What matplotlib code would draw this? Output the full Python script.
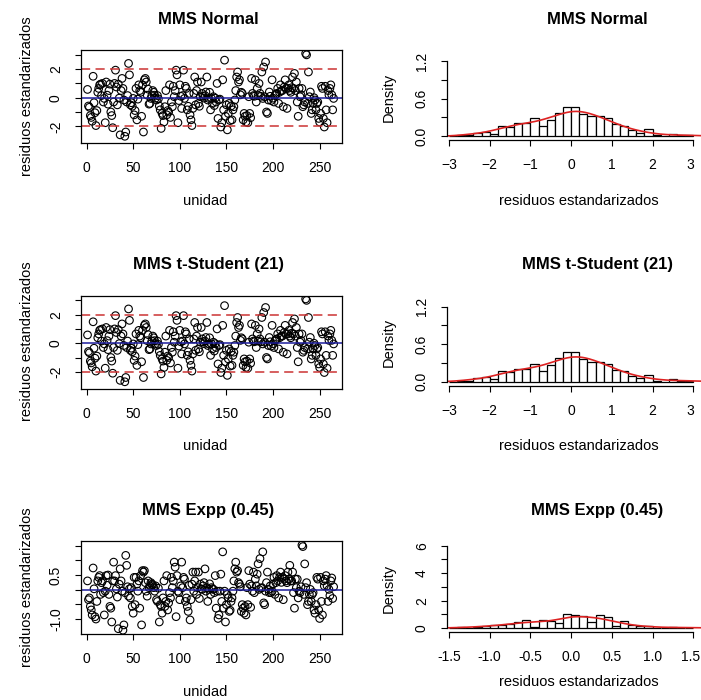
import matplotlib.pyplot as plt
import matplotlib.transforms as mtransforms
import numpy as np

plt.rcParams['font.family'] = ['Liberation Sans', 'DejaVu Sans']

# residuos estandarizados (unidad 1..n)
res_normal = [
    0.58, -0.58, -0.67, -1.25, -1.38, -1.65, 1.5, -0.35, -1.05, -1.95, -0.9,
    0.38, 0.65, 0.9, 0.95, 0.15, 1.0, -0.3, -0.05, -1.75, 1.1, 0.18,
    -0.45, 0.5, 0.95, -1.0, -1.25, -2.1, -0.3, 1.0, 1.93, 0.75, -0.5,
    0.95, -0.03, -2.6, 0.5, 1.35, 0.65, -0.16, -2.7, -2.4, -0.3, 0.15,
    2.4, 1.6, -0.5, -0.35, -0.6, -0.05, -1.2, -0.9, 0.65, -1.55, -0.1,
    0.9, 0.5, 0.38, -1.3, 0.9, -2.4, 1.25, 1.35, 1.1, 0.18, 0.6,
    -0.45, -0.4, -0.05, 0.15, 0.5, 0.38, 0.18, -0.03, -0.16, 0.15, -0.08,
    -0.58, -0.85, -2.15, -1.1, -1.25, -1.7, -0.63, 0.5, -1.2, -0.9, -1.0,
    0.9, -1.38, -0.3, -0.63, 0.8, 0.07, 0.5, 1.93, 1.6, -1.75, -0.2,
    0.9, 0.1, -0.75, 0.15, 1.93, -0.05, 0.8, 0.65, -0.85, -0.6, 0.3,
    -1.2, -1.55, -1.95, -0.75, 0.3, 1.45, -0.5, 0.5, 1.1, -0.4, -0.6,
    0.07, 1.1, 0.3, 0.1, -0.03, 0.15, 0.4, 1.45, -0.16, -0.05, 0.38,
    -0.85, -0.05, -0.4, 0.07, -0.55, -0.03, -0.3, 1.0, -1.45, -0.16, -0.1,
    -2.05, -1.75, 1.25, -0.85, 2.63, -1.3, -0.5, -2.25, -1.1, -0.4, -1.6,
    -0.58, -1.55, -0.85, -0.63, -0.16, 0.5, 1.45, 1.8, 1.1, 1.25, 0.2,
    0.38, 0.3, -1.55, -1.1, -1.3, -1.7, -1.25, -1.75, 0.07, -1.1, -1.4,
    1.35, 0.3, 0.15, 0.1, 1.25, -0.3, 0.65, 0.15, 1.0, 0.3, 0.1,
    1.8, -0.05, 2.15, 0.07, 2.5, -1.0, -1.1, -0.16, 0.4, 0.1, -0.2,
    1.25, -0.03, -0.3, 0.15, 0.25, 0.3, 0.65, -0.4, 0.38, 0.9, 0.5,
    0.5, -0.63, 0.75, 1.25, 0.65, -0.75, 0.65, 0.9, 0.5, 0.38, 0.7,
    1.45, 0.65, 1.7, 0.5, 1.1, -0.3, -1.3, 0.65, 0.07, 0.2,
    0.65, -0.63, -0.5, -0.3, 3.1, 3.0, -0.4, 1.8, 0.07, 0.4,
    -1.1, -0.85, -0.4, 0.0, -0.16, -0.85, -0.4, -0.3, -1.45, -1.7,
    -1.1, 0.8, 0.65, -1.45, -2.05, 0.8, -0.85, -1.75, 0.5, 0.2, 0.65, 0.9, 0.2, -0.85, -0.05,
]
res_t = list(res_normal)  # se ven iguales en el grafico

res_expp = [
    0.3, -0.34, -0.28, -0.57, -0.69, -0.86, 0.74, 0.03, -0.92, -1.0, -0.4,
    0.3, 0.42, 0.48, -0.16, 0.24, 0.3, -0.1, -0.86, -0.05, 0.48, 0.15,
    0.5, -0.16, -0.57, -0.63, -1.1, 0.3, 0.94, 0.3, 0.48, 0.03, -0.25,
    -1.33, 0.19, 0.71, 0.3, -0.05, -1.38, -1.2, -0.1, 1.17, 0.83, 0.1,
    -0.22, 0.03, -0.28, 0.07, -0.57, -0.8, 0.42, -0.51, 0.42, 0.19, -0.05,
    0.3, -0.63, 0.48, -1.2, 0.65, 0.6, 0.65, 0.24, -0.05, -0.22, 0.3,
    0.07, 0.13, 0.24, 0.19, 0.16, 0.07, -0.05, 0.13, -0.34, -0.4, 0.05,
    -1.1, -0.51, -0.57, -0.8, -0.28, 0.3, -0.57, -0.4, 0.48, -0.69, -0.45,
    -0.1, -0.28, 0.42, 0.07, 0.3, 0.94, 0.77, -0.92, 0.48, -0.05, -0.1,
    -0.34, 0.13, 0.94, 0.07, 0.42, 0.36, -0.4, -0.28, -0.57, -0.74, 0.15,
    -1.03, -0.34, 0.19, 0.6, -0.05, 0.3, 0.6, -0.16, 0.07, 0.6, -0.3,
    0.19, 0.03, 0.01, 0.13, 0.24, 0.71, -0.05, 0.07, -0.4, 0.01, 0.2,
    -0.16, 0.07, 0.03, 0.01, -0.1, 0.48, -0.63, -0.05, -0.98, -0.86, -0.05,
    0.53, -0.4, 1.29, -0.63, -0.05, -1.1, -0.51, -0.16, -0.28, -0.74, -0.7,
    -0.4, -0.28, -0.05, 0.3, 0.71, 0.94, 0.6, 0.65, 0.24, 0.19, 0.1,
    -0.74, -0.51, -0.63, -0.8, -0.57, -0.86, 0.07, -0.51, 0.65, 0.19, -0.6,
    0.13, -0.05, 0.6, -0.1, 0.36, 0.13, 0.53, 0.88, 0.01, 1.06, 0.05,
    0.07, 1.29, -0.45, -0.51, -0.05, 0.24, 0.6, 0.01, -0.1, 0.13, -0.1,
    -0.05, 0.19, 0.42, -0.16, 0.24, 0.48, 0.3, -0.28, 0.42, 0.6, 0.25,
    0.42, -0.34, 0.36, 0.48, 0.3, 0.24, 0.6, 0.36, 0.83, 0.3, 0.3,
    0.6, -0.1, -0.63, 0.36, 0.07, 0.36, -0.28, -0.05, -0.1, 0.1,
    1.52, 1.47, -0.16, 0.88, 0.07, 0.24, -0.51, -0.4, -0.16, 0.01,
    -0.4, -0.16, -0.1, -0.69, -0.8, -0.51, 0.42, 0.36, -0.69, -0.98,
    0.42, -0.4, -0.86, 0.3, 0.13, 0.36, 0.48, 0.13, -0.4, 0.01, -0.2, 0.3, 0.4, -0.3, 0.1,
]

titulos = ['MMS Normal', 'MMS t-Student (21)', 'MMS Expp (0.45)']
series = [res_normal, res_t, res_expp]


def kde(x, grid):
    x = np.asarray(x)
    n = len(x)
    iqr = np.subtract(*np.percentile(x, [75, 25]))
    bw = 0.9 * min(np.std(x, ddof=1), iqr / 1.34) * n ** -0.2
    z = (grid[:, None] - x[None, :]) / bw
    return np.exp(-0.5 * z ** 2).sum(axis=1) / (n * bw * np.sqrt(2 * np.pi))


W, H = 701, 700
fig = plt.figure(figsize=(W / 100, H / 100), dpi=100)


def caja(x0, y0, x1, y1):
    return fig.add_axes([x0 / W, 1 - y1 / H, (x1 - x0) / W, (y1 - y0) / H])


fs = 10
fl = 10.5
for i, (res, tit) in enumerate(zip(series, titulos)):
    dy = 245.5 * i
    unidad = np.arange(1, len(res) + 1)

    # ---- residuos vs unidad
    ax = caja(81, 50 + dy, 342, 143 + dy)
    ax.scatter(unidad, res, s=30, facecolors='none', edgecolors='black', linewidths=0.8)
    ax.axhline(0, color='#1c1c9c', lw=1.1)
    if i < 2:
        ax.axhline(2, color='#cc3333', lw=1.1, ls=(0, (6, 3.5)))
        ax.axhline(-2, color='#cc3333', lw=1.1, ls=(0, (6, 3.5)))
        ax.set_ylim(-3.17, 3.34)
        ax.set_yticks([-2, -1, 0, 1, 2, 3])
        ax.set_yticklabels(['-2', '', '0', '', '2', ''])
    else:
        ax.set_ylim(-1.51, 1.66)
        ax.set_yticks([-1.0, -0.5, 0, 0.5, 1.0, 1.5])
        ax.set_yticklabels(['-1.0', '', '', '0.5', '', ''])
    ax.set_xlim(-6, 274)
    ax.set_xticks([0, 50, 100, 150, 200, 250])
    ax.tick_params(length=4, width=0.8, labelsize=fs, pad=9)
    for lab in ax.get_yticklabels():
        lab.set_rotation(90)
        lab.set_va('center')
    for s in ax.spines.values():
        s.set_linewidth(0.9)
    fig.text(208 / W, 1 - (19 + dy) / H, tit, ha='center', va='center',
             fontsize=12, fontweight='bold')
    ylab_u = 201 + dy if i < 2 else 692
    fig.text(205 / W, 1 - ylab_u / H, 'unidad', ha='center', va='center', fontsize=fl)
    fig.text(27 / W, 1 - (96 + dy) / H, 'residuos estandarizados', ha='center',
             va='center', rotation=90, fontsize=fl)

    # ---- histograma
    if i < 2:
        ax2 = caja(447, 58 + dy, 701, 140 + dy)
        bins = np.round(np.arange(-3.0, 3.01, 0.2), 2)
        ax2.set_xlim(-3.05, 3.19)
        ax2.set_ylim(-0.059, 1.248)
        ax2.set_xticks([-3, -2, -1, 0, 1, 2, 3])
        ax2.set_yticks([0, 0.3, 0.6, 0.9, 1.2])
        ax2.set_yticklabels(['0.0', '', '0.6', '', '1.2'])
        ax2.spines['bottom'].set_bounds(-3, 3)
        ax2.spines['left'].set_bounds(0, 1.2)
        grid = np.linspace(-3.05, 3.19, 400)
        yx = 201 + dy
    else:
        ax2 = caja(447, 542, 701, 632)
        bins = np.round(np.arange(-1.5, 1.51, 0.1), 2)
        ax2.set_xlim(-1.525, 1.595)
        ax2.set_ylim(-0.29, 6.27)
        ax2.set_xticks([-1.5, -1.0, -0.5, 0, 0.5, 1.0, 1.5])
        ax2.set_xticklabels(['-1.5', '-1.0', '-0.5', '0.0', '0.5', '1.0', '1.5'])
        ax2.set_yticks([0, 1, 2, 3, 4, 5, 6])
        ax2.set_yticklabels(['0', '', '2', '', '4', '', '6'])
        ax2.spines['bottom'].set_bounds(-1.5, 1.5)
        ax2.spines['left'].set_bounds(0, 6)
        grid = np.linspace(-1.525, 1.595, 400)
        yx = 682
    ax2.hist(res, bins=bins, density=True, facecolor='white', edgecolor='black', linewidth=0.9)
    ax2.plot(grid, kde(res, grid), color='#dd2222', lw=1.2)
    ax2.spines['top'].set_visible(False)
    ax2.spines['right'].set_visible(False)
    for s in ax2.spines.values():
        s.set_linewidth(0.9)
    ax2.tick_params(length=4, width=0.8, labelsize=fs, pad=9)
    for lab in ax2.get_yticklabels():
        lab.set_rotation(90)
        lab.set_va('center')
    # ultima etiqueta del eje x pegada al borde: correrla un poco a la izquierda
    ult = ax2.get_xticklabels()[-1]
    ult.set_transform(ult.get_transform() +
                      mtransforms.ScaledTranslation(-3 / 100, 0, fig.dpi_scale_trans))
    fig.text(597 / W, 1 - (19 + dy) / H, tit, ha='center', va='center',
             fontsize=12, fontweight='bold')
    fig.text(579 / W, 1 - yx / H, 'residuos estandarizados', ha='center',
             va='center', fontsize=fl)
    fig.text(389 / W, 1 - (97 + dy) / H, 'Density', ha='center', va='center',
             rotation=90, fontsize=fl)

fig.savefig('out.png', dpi=100)
